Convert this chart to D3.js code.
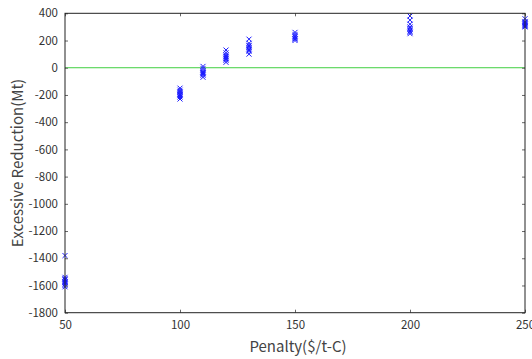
<!DOCTYPE html>
<html><head><meta charset="utf-8">
<script src="https://cdn.jsdelivr.net/npm/d3@7"></script>
<style>body{margin:0;background:#fff}svg{display:block}text{font-family:"Noto Sans CJK JP","DejaVu Sans",sans-serif}</style>
</head><body>
<script>
const penalties = [50, 100, 110, 120, 130, 150, 200, 250];
const reduction50 = [-1380, -1540, -1550, -1555, -1560, -1570, -1575, -1580, -1590, -1600, -1610];
const reduction100 = [-150, -165, -175, -180, -190, -195, -200, -205, -215, -230];
const reduction110 = [10, -5, -20, -30, -35, -40, -45, -55, -70];
const reduction120 = [130, 110, 95, 85, 80, 70, 65, 55, 40];
const reduction130 = [210, 180, 165, 160, 150, 140, 130, 120, 100];
const reduction150 = [260, 245, 235, 225, 215, 210, 200];
const reduction200 = [380, 350, 320, 300, 290, 280, 270, 260, 250];
const reduction250 = [360, 340, 335, 330, 325, 320, 315, 310, 305, 300];
const xTicks = [50, 100, 150, 200, 250];
const yTicks = [400, 200, 0, -200, -400, -600, -800, -1000, -1200, -1400, -1600, -1800];
const xLabel = "Penalty($/t-C)";
const yLabel = "Excessive Reduction(Mt)";

const groups = [reduction50, reduction100, reduction110, reduction120, reduction130, reduction150, reduction200, reduction250];
const points = [];
groups.forEach((g, i) => g.forEach(v => points.push({x: penalties[i], y: v})));

const W = 532, H = 359;
const m = {left: 65, right: 7, top: 13.3, bottom: 46.3};
const svg = d3.select("body").append("svg").attr("width", W).attr("height", H);
const x = d3.scaleLinear().domain([50, 250]).range([m.left, W - m.right]);
const y = d3.scaleLinear().domain([-1800, 400]).range([H - m.bottom, m.top]);

// zero line
svg.append("line").attr("x1", x(50)).attr("x2", x(250)).attr("y1", y(0)).attr("y2", y(0))
  .attr("stroke", "#3fcf3f").attr("stroke-width", 1);

// points
const s = 2.5;
const pg = svg.append("g").attr("stroke", "#1a1aff").attr("stroke-width", 1).attr("fill", "none");
pg.selectAll("path").data(points).join("path")
  .attr("d", d => {
    const cx = x(d.x), cy = y(d.y);
    return `M${cx - s},${cy - s}L${cx + s},${cy + s}M${cx - s},${cy + s}L${cx + s},${cy - s}`;
  });

// axes with inward ticks
const tickCol = "#666";
const fmt = d => String(d);
const axB = svg.append("g").attr("transform", `translate(0,${y(-1800)})`)
  .call(d3.axisBottom(x).tickValues(xTicks).tickSize(-3).tickPadding(8).tickFormat(fmt));
const axL = svg.append("g").attr("transform", `translate(${x(50)},0)`)
  .call(d3.axisLeft(y).tickValues(yTicks).tickSize(-3).tickPadding(7).tickFormat(fmt));
const axT = svg.append("g").attr("transform", `translate(0,${y(400)})`)
  .call(d3.axisTop(x).tickValues(xTicks).tickSize(-3).tickFormat(""));
const axR = svg.append("g").attr("transform", `translate(${x(250)},0)`)
  .call(d3.axisRight(y).tickValues(yTicks).tickSize(-3).tickFormat(""));
[axB, axL, axT, axR].forEach(a => {
  a.select(".domain").remove();
  a.selectAll(".tick line").attr("stroke", tickCol);
  a.selectAll(".tick text").attr("fill", "#333").style("font-size", "11.5px")
   .style("font-family", "'Noto Sans CJK JP', 'DejaVu Sans', sans-serif");
});

// frame
svg.append("rect").attr("x", x(50)).attr("y", y(400)).attr("width", x(250) - x(50)).attr("height", y(-1800) - y(400))
  .attr("fill", "none").attr("stroke", "#222").attr("stroke-width", 1);

svg.append("text").attr("x", 298).attr("y", 352).attr("text-anchor", "middle")
  .attr("fill", "#444").style("font-size", "15px").text(xLabel);
svg.append("text").attr("transform", `translate(23,${163}) rotate(-90)`).attr("text-anchor", "middle")
  .attr("fill", "#444").style("font-size", "15px").text(yLabel);
</script>
</body></html>
